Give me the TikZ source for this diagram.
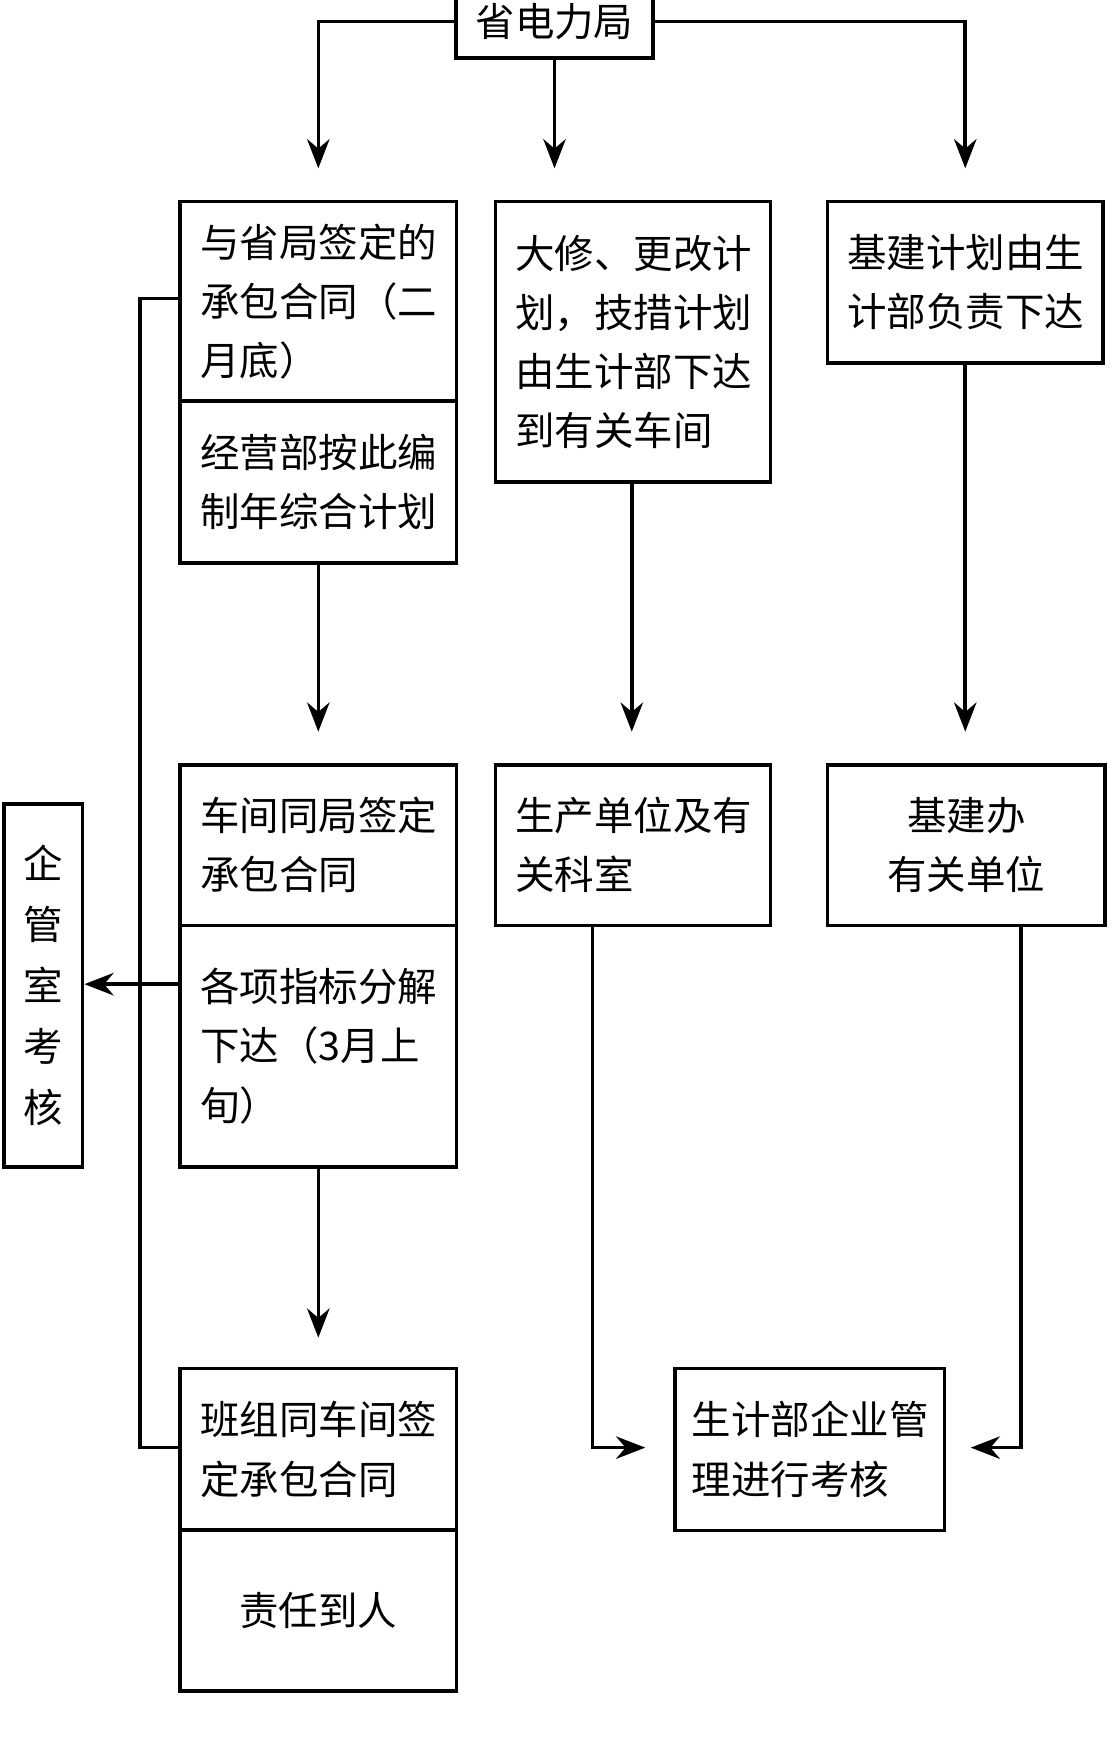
\documentclass[tikz,border=0pt]{standalone}
\usepackage{fontspec}
\setmainfont{Noto Sans CJK SC}
\usetikzlibrary{arrows.meta,positioning}

\begin{document}
\begin{tikzpicture}[
    x=0.01cm, y=-0.01cm,
    font=\fontsize{10pt}{15pt}\selectfont,
    line width=0.9pt,
    >={Stealth[length=2.6mm, width=2mm]},
    % --- 樣式 ---
    plan box/.style={
        draw=black,
        anchor=north west,
        minimum width=2.46cm,
        text width=2.1cm,
        align=left,
        inner sep=0pt
    },
    mid box/.style={plan box, minimum width=2.45cm},
    center box/.style={plan box, align=center}
]
    \useasboundingbox (0,0) rectangle (990,1555);

    % ====== 頂部 ======
    \node[draw, anchor=north west, minimum width=1.75cm, minimum height=0.65cm, inner sep=0pt] (bureau) at (405,-15) {省电力局};

    % ====== 左列 ======
    \node[plan box, minimum height=1.78cm] (contract) at (159,178) {与省局签定的\\承包合同（二\\月底）};
    \node[plan box, minimum height=1.44cm] (annual) at (159,356) {经营部按此编\\制年综合计划};
    \node[plan box, minimum height=1.43cm] (shop) at (159,680) {车间同局签定\\承包合同};
    \node[plan box, minimum height=2.15cm] (index) at (159,823) {各项指标分解\\下达（3月上\\旬）};
    \node[plan box, minimum height=1.44cm] (team) at (159,1218) {班组同车间签\\定承包合同};
    \node[center box, minimum height=1.43cm] (person) at (159,1362) {责任到人};

    % ====== 中列 ======
    \node[mid box, minimum height=2.5cm] (repair) at (440,178) {大修、更改计\\划，技措计划\\由生计部下达\\到有关车间};
    \node[mid box, minimum height=1.43cm] (produce) at (440,680) {生产单位及有\\关科室};

    % ====== 右列 ======
    \node[mid box, minimum height=1.44cm] (build) at (736,178) {基建计划由生\\计部负责下达};
    \node[center box, minimum width=2.47cm, minimum height=1.43cm] (office) at (736,680) {基建办\\有关单位};

    % ====== 考核 ======
    \node[draw, anchor=north west, minimum width=0.7cm, minimum height=3.23cm, text width=0.4cm, align=center, inner sep=0pt, font=\fontsize{10pt}{15.5pt}\selectfont] (qiguan) at (2,715) {企\\管\\室\\考\\核};
    \node[plan box, minimum width=2.4cm, minimum height=1.44cm] (assess) at (600,1218) {生计部企业管\\理进行考核};

    % ====== 箭頭 ======
    \draw[->] (bureau.west) -| (contract.north |- 0,150);
    \draw[->] (bureau.south) -- (bureau.south |- 0,150);
    \draw[->] (bureau.east) -| (build.north |- 0,150);
    \draw[->] (annual.south) -- (annual.south |- 0,652);
    \draw[->] (563,428) -- (563,652);
    \draw[->] (build.south) -- (build.south |- 0,652);
    \draw[->] (index.south) -- (index.south |- 0,1192);
    \draw[->] (index.west |- 0,877) -- (qiguan.east |- 0,877);
    \draw (contract.west |- 0,266) -- (125,266) -- (125,1290) -- (team.west |- 0,1290);
    \draw[->] (528,823) -- (528,1290) -- (575,1290);
    \draw[->] (910,823) -- (910,1290) -- (865,1290);
\end{tikzpicture}
\end{document}
